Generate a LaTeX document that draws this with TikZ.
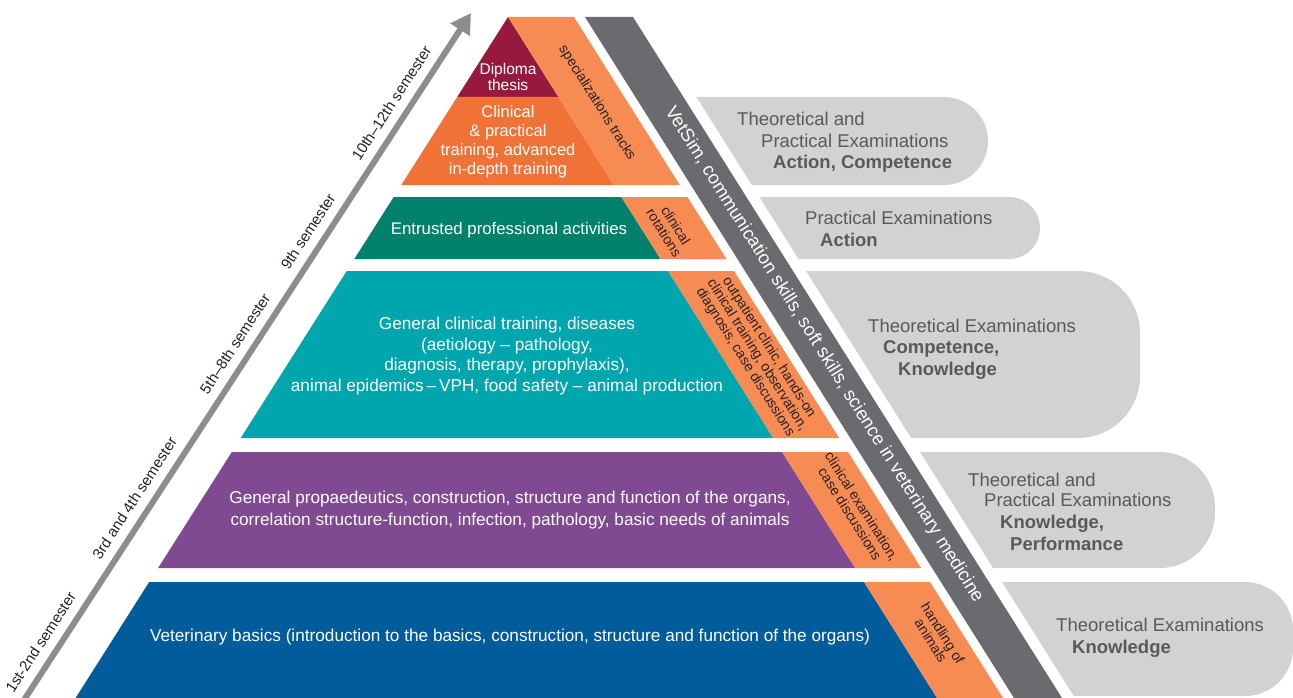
\documentclass[tikz,border=0pt]{standalone}
\usepackage{fontspec}
\setmainfont{Liberation Sans}
\usetikzlibrary{arrows.meta}
\definecolor{cblue}{RGB}{0,92,155}
\definecolor{cpurple}{RGB}{127,74,145}
\definecolor{cteal}{RGB}{0,166,173}
\definecolor{cgreen}{RGB}{0,129,108}
\definecolor{corange}{RGB}{240,114,54}
\definecolor{cred}{RGB}{151,26,62}
\definecolor{cband}{RGB}{246,140,84}
\definecolor{cdgray}{RGB}{106,107,111}
\definecolor{clgray}{RGB}{209,210,212}
\definecolor{ctext}{RGB}{88,89,91}
\definecolor{carrow}{RGB}{140,141,143}
\definecolor{cdark}{RGB}{40,32,30}
\begin{document}
\begin{tikzpicture}[x=1pt,y=-1pt,
  maintext/.style={text=white, font=\fontsize{17.2}{20.8}\selectfont, align=center, inner sep=0pt},
  bandtext/.style={text=cdark, font=\fontsize{14}{14}\selectfont, align=center, rotate=-57.8, inner sep=0pt},
  examtext/.style={text=ctext, font=\fontsize{18.5}{21.5}\selectfont, anchor=base west, inner sep=0pt},
  exambold/.style={examtext, font=\fontsize{18.5}{21.5}\selectfont\bfseries},
  semtext/.style={font=\fontsize{15}{18}\selectfont, text=cdark, sloped, above=9pt, inner sep=0pt}]
\useasboundingbox (0,0) rectangle (1293,698);
% pyramid layers
\fill[cblue] (149.2,582) -- (864,582) -- (937,698) -- (75.6,698) -- cycle;
\fill[cband] (864,582) -- (930,582) -- (1003,698) -- (937,698) -- cycle;
\fill[cpurple] (231.8,452) -- (782.1,452) -- (855.1,568) -- (158.1,568) -- cycle;
\fill[cband] (782.1,452) -- (848.1,452) -- (921.1,568) -- (855.1,568) -- cycle;
\fill[cteal] (346.7,271) -- (668,271) -- (773.2,438) -- (240.7,438) -- cycle;
\fill[cband] (668,271) -- (734,271) -- (839.2,438) -- (773.2,438) -- cycle;
\fill[cgreen] (393.7,197) -- (621.4,197) -- (660.5,259) -- (354.3,259) -- cycle;
\fill[cband] (621.4,197) -- (687.4,197) -- (726.5,259) -- (660.5,259) -- cycle;
\fill[cred] (508,17) -- (558.4,97) -- (457.2,97) -- cycle;
\fill[corange] (457.2,97) -- (558.4,97) -- (613.8,185) -- (401.3,185) -- cycle;
\fill[cband] (508,17) -- (574,17) -- (679.8,185) -- (613.8,185) -- cycle;
% VetSim band
\fill[cdgray] (585,17) -- (633,17) -- (1062,698) -- (1014,698) -- cycle;
% exam boxes
\fill[clgray] (696.4,97) -- (944,97) arc[start angle=-90,end angle=0,radius=44] -- (988,141) arc[start angle=0,end angle=90,radius=44] -- (751.8,185) -- cycle;
\fill[clgray] (759.4,197) -- (1009,197) arc[start angle=-90,end angle=0,radius=31] -- (1040,228) arc[start angle=0,end angle=90,radius=31] -- (798.5,259) -- cycle;
\fill[clgray] (806,271) -- (1078,271) arc[start angle=-90,end angle=0,radius=62] -- (1140,376) arc[start angle=0,end angle=90,radius=62] -- (911.2,438) -- cycle;
\fill[clgray] (920.1,452) -- (1160,452) arc[start angle=-90,end angle=0,radius=55] -- (1215,513) arc[start angle=0,end angle=90,radius=55] -- (993.1,568) -- cycle;
\fill[clgray] (1002,582) -- (1245,582) arc[start angle=-90,end angle=0,radius=48] -- (1293,648) arc[start angle=0,end angle=90,radius=48] -- (1073.8,696) -- cycle;
% layer texts
\node[maintext, font=\fontsize{15.5}{15.5}\selectfont] (diploma) at (508,77) {Diploma\\thesis};
\node[maintext, font=\fontsize{16.5}{19}\selectfont] (clinical) at (508,142) {Clinical\\\& practical\\training, advanced\\in-depth training};
\node[maintext, font=\fontsize{16.8}{20}\selectfont] (epa) at (509,230) {Entrusted professional activities};
\node[maintext] (gct) at (507,356) {General clinical training, diseases\\(aetiology -- pathology,\\diagnosis, therapy, prophylaxis),\\animal epidemics\,--\,VPH, food safety -- animal production};
\node[maintext, font=\fontsize{17.2}{22}\selectfont] (gp) at (510,510) {General propaedeutics, construction, structure and function of the organs,\\correlation structure-function, infection, pathology, basic needs of animals};
\node[maintext] (vb) at (510,637) {Veterinary basics (introduction to the basics, construction, structure and function of the organs)};
% band texts
\node[bandtext] (spec) at (597,103) {specializations tracks};
\node[bandtext] (rot) at (670,229) {clinical\\rotations};
\node[bandtext] (outp) at (757,355) {outpatient clinic, hands-on\\clinical training, observation,\\diagnosis, case discussions};
\node[bandtext] (cex) at (856,510) {clinical examination,\\case discussions};
\node[bandtext] (hand) at (937,637) {handling of\\animals};
\node[text=white, font=\fontsize{18.5}{20}\selectfont, rotate=-57.8, inner sep=0pt] (vetsim) at (824,355) {VetSim, communication skills, soft skills, science in veterinary medicine};
% exam texts
\node[examtext] (e1a) at (737,125.6) {Theoretical and};
\node[examtext] (e1b) at (761,147.6) {Practical Examinations};
\node[exambold] (e1c) at (773,168.6) {Action, Competence};
\node[examtext] (e2a) at (805,224.6) {Practical Examinations};
\node[exambold] (e2b) at (820,246.6) {Action};
\node[examtext] (e3a) at (868,332.6) {Theoretical Examinations};
\node[exambold] (e3b) at (883,353.6) {Competence,};
\node[exambold] (e3c) at (898,375.6) {Knowledge};
\node[examtext] (e4a) at (968,486.6) {Theoretical and};
\node[examtext] (e4b) at (984,506.6) {Practical Examinations};
\node[exambold] (e4c) at (1000,528.6) {Knowledge,};
\node[exambold] (e4d) at (1010,550.6) {Performance};
\node[examtext] (e5a) at (1056,631.6) {Theoretical Examinations};
\node[exambold] (e5b) at (1072,653.6) {Knowledge};
% semester arrow
\coordinate (astart) at (24,700);
\coordinate (atip) at (471,13);
\draw[carrow, line width=6pt, -{Triangle[length=20pt,width=22pt]}] (astart) -- (atip)
  node[semtext, pos=0.07] (s1) {1st-2nd semester}
  node[semtext, pos=0.28] (s2) {3rd and 4th semester}
  node[semtext, pos=0.505] (s3) {5th--8th semester}
  node[semtext, pos=0.668] (s4) {9th semester}
  node[semtext, pos=0.855] (s5) {10th--12th semester};
\end{tikzpicture}
\end{document}
